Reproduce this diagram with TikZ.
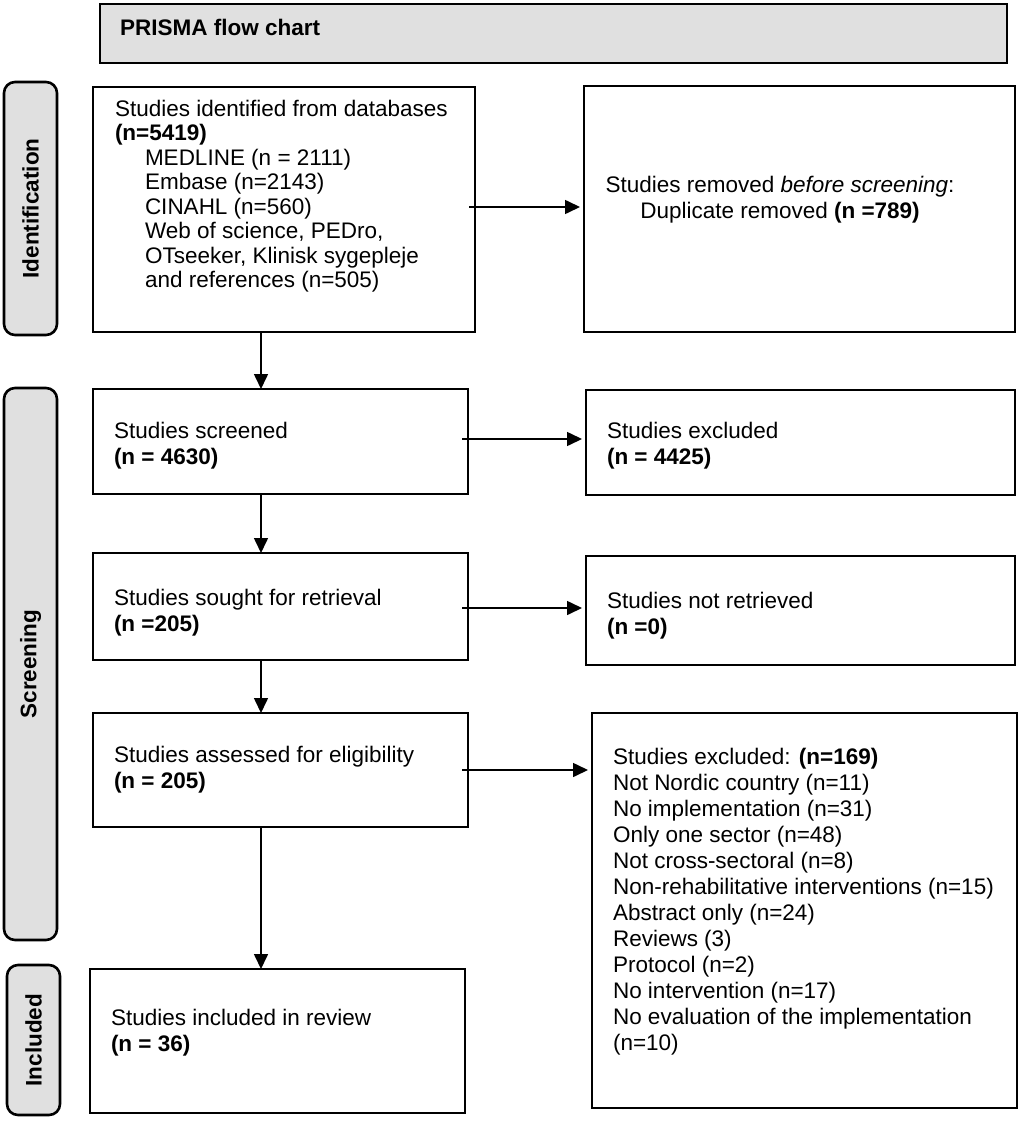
\documentclass[tikz,border=0pt]{standalone}
\usepackage{fontspec}
\setmainfont{Liberation Sans}
\usetikzlibrary{arrows.meta}
\definecolor{pillgray}{HTML}{E0E0E0}
\begin{document}
\begin{tikzpicture}[x=1pt,y=-1pt,
  box/.style={draw=black, line width=2.6pt, inner sep=0pt, outer sep=0pt, anchor=north west},
  pill/.style={box, fill=pillgray, rounded corners=11pt},
  banner/.style={box, fill=pillgray, line width=2pt},
  txt/.style={anchor=north west, inner sep=0pt, outer sep=0pt, align=left, font=\fontsize{22.5}{26}\selectfont},
  side/.style={rotate=90, inner sep=0pt, font=\fontsize{22.5}{26}\selectfont\bfseries},
  arr/.style={draw=black, line width=1.6pt, -{Triangle[length=15pt,width=14pt]}, shorten <=-6pt, shorten >=4pt},
  darr/.style={draw=black, line width=1.6pt, -{Triangle[length=15pt,width=14pt]}}]
\useasboundingbox (0,0) rectangle (1022,1121);
\fill[white] (0,0) rectangle (1022,1121);

% banner
\node[banner, minimum width=907pt, minimum height=59pt] (ban) at (100,4) {};
\node[anchor=west, inner sep=0pt, font=\fontsize{22.5}{26}\selectfont\bfseries] (bantxt) at (120,27) {PRISMA flow chart};

% side pills
\node[pill, minimum width=53pt, minimum height=253pt] (pid) at (4,82) {};
\node[side] (pidt) at (pid.center) {Identification};
\node[pill, minimum width=53pt, minimum height=552pt] (psc) at (4,388) {};
\node[side] (psct) at (psc.center) {Screening};
\node[pill, minimum width=53pt, minimum height=150pt] (pin) at (7,965) {};
\node[side] (pint) at (pin.center) {Included};

% boxes
\node[box, minimum width=382pt, minimum height=245pt] (b1) at (93,87) {};
\node[box, minimum width=431pt, minimum height=246pt] (r1) at (584,86) {};
\node[box, minimum width=375pt, minimum height=105pt] (b2) at (93,389) {};
\node[box, minimum width=429pt, minimum height=105pt] (r2) at (586,390) {};
\node[box, minimum width=375pt, minimum height=107pt] (b3) at (93,553) {};
\node[box, minimum width=429pt, minimum height=109pt] (r3) at (586,556) {};
\node[box, minimum width=375pt, minimum height=114pt] (b4) at (93,713) {};
\node[box, minimum width=425pt, minimum height=395pt] (r4) at (592,713) {};
\node[box, minimum width=375pt, minimum height=144pt] (b5) at (90,969) {};

% texts
\node[txt, font=\fontsize{22.5}{24.5}\selectfont] (t1) at (115,99.7) {Studies identified from databases\\
\textbf{(n=5419)}\\
\hspace*{30pt}MEDLINE (n = 2111)\\
\hspace*{30pt}Embase (n=2143)\\
\hspace*{30pt}CINAHL (n=560)\\
\hspace*{30pt}Web of science, PEDro,\\
\hspace*{30pt}OTseeker, Klinisk sygepleje\\
\hspace*{30pt}and references (n=505)};
\node[txt, anchor=north, align=center] (tr1) at (780,175.7) {Studies removed \textit{before screening}:\\
Duplicate removed \textbf{(n =789)}};
\node[txt] (t2) at (114,421.7) {Studies screened\\\textbf{(n = 4630)}};
\node[txt] (tr2) at (607,421.7) {Studies excluded\\\textbf{(n = 4425)}};
\node[txt] (t3) at (114,589) {Studies sought for retrieval\\\textbf{(n =205)}};
\node[txt] (tr3) at (607,592) {Studies not retrieved\\\textbf{(n =0)}};
\node[txt] (t4) at (114,746) {Studies assessed for eligibility\\\textbf{(n = 205)}};
\node[txt] (tr4) at (613,748) {Studies excluded: \textbf{(n=169)}\\
Not Nordic country (n=11)\\
No implementation (n=31)\\
Only one sector (n=48)\\
Not cross-sectoral (n=8)\\
Non-rehabilitative interventions (n=15)\\
Abstract only (n=24)\\
Reviews (3)\\
Protocol (n=2)\\
No intervention (n=17)\\
No evaluation of the implementation\\
(n=10)};
\node[txt] (t5) at (111,1009) {Studies included in review\\\textbf{(n = 36)}};

% connector helpers
\coordinate (ax) at (261,0);
\coordinate (h1) at (0,207);
\coordinate (h2) at (0,439);
\coordinate (h3) at (0,608);
\coordinate (h4) at (0,770);

% vertical arrows
\draw[darr] (b1.south -| ax) -- (b2.north -| ax);
\draw[darr] (b2.south -| ax) -- (b3.north -| ax);
\draw[darr] (b3.south -| ax) -- (b4.north -| ax);
\draw[darr] (b4.south -| ax) -- (b5.north -| ax);

% horizontal arrows
\draw[arr] (b1.east |- h1) -- (r1.west |- h1);
\draw[arr] (b2.east |- h2) -- (r2.west |- h2);
\draw[arr] (b3.east |- h3) -- (r3.west |- h3);
\draw[arr] (b4.east |- h4) -- (r4.west |- h4);
\end{tikzpicture}
\end{document}
